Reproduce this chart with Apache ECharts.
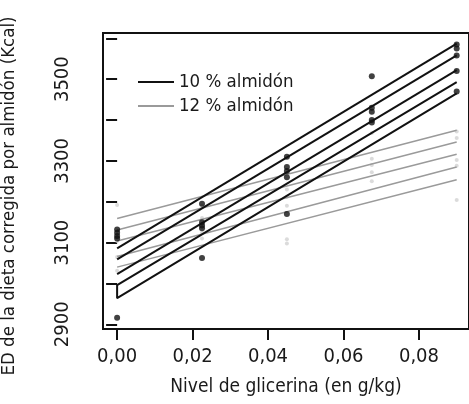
<!DOCTYPE html>
<html>
<head>
<meta charset="utf-8">
<script src="https://cdn.jsdelivr.net/npm/echarts@6/dist/echarts.min.js"></script>
<style>
  html, body { margin: 0; padding: 0; background: #fff; }
  #chart { width: 469px; height: 404px; }
</style>
</head>
<body>
<div id="chart"></div>
<script>
// niveles de glicerina (eje x)
const xLevels = [0, 0.0225, 0.045, 0.0675, 0.09];
const xTicks = [0, 0.02, 0.04, 0.06, 0.08];
const yTicks = [2900, 3000, 3100, 3200, 3300, 3400, 3500, 3600];
const yLabels = [2900, 3100, 3300, 3500];

// puntos observados, una fila por nivel de glicerina
const pts10 = [
  [3132, 3124, 3116, 3110, 2916],
  [3195, 3150, 3142, 3135, 3062],
  [3310, 3285, 3275, 3260, 3170],
  [3507, 3430, 3420, 3400, 3394],
  [3585, 3575, 3558, 3520, 3470]
];
const pts12 = [
  [3192, 3112, 3104, 3065, 3031],
  [3190, 3160, 3150, 3125, 3110],
  [3230, 3212, 3190, 3108, 3098],
  [3368, 3305, 3290, 3272, 3250],
  [3372, 3356, 3302, 3288, 3204]
];

// rectas ajustadas: valor en x = 0 y en x = 0.09
const lines10Start = [3086, 3059, 3023, 2996, 2964];
const lines10End = [3587, 3558, 3522, 3493, 3465];
const lines12Start = [3159, 3131, 3104, 3066, 3040];
const lines12End = [3375, 3346, 3316, 3285, 3254];

const FONT = '"Liberation Sans Narrow", "DejaVu Sans Condensed", "Liberation Sans", sans-serif';
const name10 = '10 % almidón';
const name12 = '12 % almidón';

const xFirst = xLevels[0];
const xLast = xLevels[xLevels.length - 1];

const flatPts = (rows) => {
  let out = [];
  for (let i = 0; i < rows.length; i++) {
    for (let j = 0; j < rows[i].length; j++) {
      out.push([xLevels[i], rows[i][j]]);
    }
  }
  return out;
};

const lineSeries = (name, data, color, width) => ({
  name: name,
  type: 'line',
  data: data,
  showSymbol: false,
  symbol: 'none',
  color: color,
  lineStyle: { color: color, width: width },
  silent: true,
  z: 3
});

let series = [];
series.push({
  name: 'pts12', type: 'scatter', data: flatPts(pts12),
  symbolSize: 4, itemStyle: { color: '#d2d2d2' }, z: 1
});
for (let i = 0; i < lines12Start.length; i++) {
  series.push(lineSeries(name12, [[xFirst, lines12Start[i]], [xLast, lines12End[i]]], '#9a9a9a', 1.5));
}
// las tres primeras rectas negras sueltas, las dos últimas unidas en x = 0
for (let i = 0; i < 3; i++) {
  series.push(lineSeries(name10, [[xFirst, lines10Start[i]], [xLast, lines10End[i]]], '#111', 2));
}
series.push(lineSeries(name10, [
  [xLast, lines10End[3]], [xFirst, lines10Start[3]],
  [xFirst, lines10Start[4]], [xLast, lines10End[4]]
], '#111', 2));
series.push({
  name: 'pts10', type: 'scatter', data: flatPts(pts10),
  symbolSize: 6, itemStyle: { color: '#111' }, z: 4
});

const chart = echarts.init(document.getElementById('chart'));
const option = {
  animation: false,
  backgroundColor: '#fff',
  textStyle: { fontFamily: FONT },
  grid: {
    left: 103, top: 33, right: -5, bottom: 75,
    show: true, borderColor: '#111', borderWidth: 2
  },
  legend: {
    data: [name10, name12],
    orient: 'vertical',
    left: 133, top: 67,
    icon: 'rect',
    itemWidth: 36, itemHeight: 2,
    itemGap: 4,
    selectedMode: false,
    textStyle: { fontFamily: FONT, fontSize: 18.5, color: '#1a1a1a', lineHeight: 20 }
  },
  xAxis: {
    type: 'value',
    min: -0.00374, max: 0.09326,
    name: 'Nivel de glicerina (en g/kg)',
    nameLocation: 'middle',
    nameGap: 49,
    nameTextStyle: { fontFamily: FONT, fontSize: 19, color: '#1a1a1a' },
    axisLine: { show: false },
    axisTick: {
      show: true, length: 11, customValues: xTicks,
      lineStyle: { color: '#111', width: 2 }
    },
    axisLabel: {
      customValues: xTicks, margin: 18,
      fontFamily: FONT, fontSize: 20, color: '#1a1a1a',
      formatter: (v) => v.toFixed(2).replace('.', ',')
    },
    splitLine: { show: false }
  },
  yAxis: {
    type: 'value',
    min: 2888.5, max: 3613,
    axisLine: { show: false },
    axisTick: {
      show: true, length: 11, customValues: yTicks,
      lineStyle: { color: '#111', width: 2 }
    },
    axisLabel: {
      customValues: yLabels, rotate: 90, margin: 30,
      fontFamily: FONT, fontSize: 20, color: '#1a1a1a',
      formatter: (v) => String(v)
    },
    splitLine: { show: false }
  },
  graphic: [{
    type: 'text',
    x: 9, y: 196,
    rotation: Math.PI / 2,
    style: {
      text: 'ED de la dieta corregida por almidón (Kcal)',
      font: '18.5px ' + FONT,
      fill: '#1a1a1a',
      align: 'center',
      verticalAlign: 'middle'
    }
  }],
  series: series
};
chart.setOption(option);
</script>
</body>
</html>
